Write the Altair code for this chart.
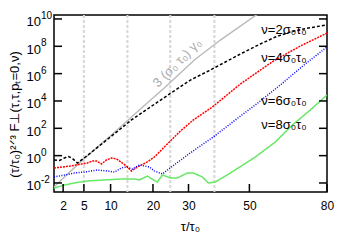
import altair as alt
import pandas as pd

# tau/tau0 and log10 of (tau/tau0)^(2/3) F for each nu
tau_2 = [1.0, 1.57, 2.16, 2.68, 3.23, 3.97, 5.26, 7.96, 11.02, 14.63, 19.33, 24.73, 30.56,
         36.15, 41.70, 47.52, 53.94, 59.50, 65.24, 72.35, 80.0]
logF_2 = [-0.32, -0.35, -0.17, -0.06, -0.21, -0.54, -0.10, 0.78, 1.66, 2.61, 3.56, 4.55, 5.53,
          6.19, 6.85, 7.51, 8.17, 8.68, 9.05, 9.34, 9.56]

tau_4 = [1.0, 1.92, 2.95, 4.13, 5.59, 6.47, 7.20, 8.16, 9.15, 10.17, 11.24, 12.56, 13.69, 14.63,
         16.06, 18.56, 20.38, 23.34, 27.60, 31.47, 37.43, 46.82, 58.75, 69.16, 80.0]
logF_4 = [-0.90, -0.83, -0.76, -0.65, -0.54, -0.39, -0.39, -0.61, -0.32, -0.17, -0.24, -0.54, -0.83,
          -1.12, -0.83, -0.46, -0.10, 0.71, 1.80, 2.61, 3.56, 5.24, 6.92, 8.02, 8.97]

tau_6 = [1.0, 2.16, 3.52, 5.09, 7.39, 9.35, 10.81, 12.33, 13.46, 14.86, 16.55, 19.07, 20.38, 22.52,
         26.15, 30.56, 37.75, 45.09, 52.13, 61.40, 71.15, 80.0]
logF_6 = [-1.56, -1.42, -1.27, -1.20, -1.05, -1.12, -1.20, -0.90, -0.83, -0.98, -0.68, -0.83, -1.12,
          -1.34, -0.61, 0.20, 1.37, 2.61, 3.71, 5.17, 6.71, 7.95]

tau_8 = [1.0, 2.16, 3.52, 5.59, 8.74, 12.33, 15.34, 16.55, 18.56, 20.11, 21.17, 22.52, 24.73, 26.73,
         29.66, 31.47, 34.25, 36.15, 38.40, 43.39, 52.13, 59.50, 66.02, 73.16, 80.0]
logF_8 = [-2.37, -2.15, -2.00, -1.85, -1.78, -1.71, -1.71, -1.78, -1.49, -1.78, -1.93, -1.42, -1.63,
          -1.63, -1.27, -1.27, -1.56, -2.00, -1.93, -1.27, -0.10, 1.00, 2.24, 3.34, 4.44]

tau_ref = [1.0, 4.44, 9.96, 16.80, 23.34, 31.78, 40.04, 46.82, 52.49, 57.63]
logF_ref = [-2.29, -0.46, 1.44, 3.41, 5.02, 7.00, 8.46, 9.48, 10.29, 10.95]

series_names = ["ν=2σ₀τ₀", "ν=4σ₀τ₀", "ν=6σ₀τ₀", "ν=8σ₀τ₀"]
series_colors = ["#000000", "#ff0000", "#0000ff", "#66e866"]
series_dash = [[3, 2], [2, 1], [1, 1.5], [1, 0]]

label_tau = [54.3, 54.3, 54.3, 54.3]
label_logF = [9.19, 7.14, 4.0, 2.24]

ref_label = "3 (σ₀ τ₀)  γ₀"
ref_label_tau = [26.7]
ref_label_logF = [6.78]

vlines = [5.0, 13.7, 24.7, 38.1]
x_ticks = [2, 5, 10, 20, 30, 50, 80]
y_exps = [-2, 0, 2, 4, 6, 8, 10]
y_exp_text = ["-2", "0", "2", "4", "6", "8", "10"]

W, H = 273, 177
FONT = "Liberation Sans"

rows = []
for name, ts, ls in zip(series_names, [tau_2, tau_4, tau_6, tau_8], [logF_2, logF_4, logF_6, logF_8]):
    for t, l in zip(ts, ls):
        rows.append({"nu": name, "tau": t, "F": 10 ** l})
curves = pd.DataFrame(rows)
ref = pd.DataFrame({"tau": tau_ref, "F": [10 ** l for l in logF_ref]})
labels = pd.DataFrame({"tau": label_tau, "F": [10 ** l for l in label_logF], "text": series_names})
reflab = pd.DataFrame({"tau": ref_label_tau, "F": [10 ** l for l in ref_label_logF], "text": [ref_label]})
vl = pd.DataFrame({"tau": vlines})
yt = pd.DataFrame({"F": [10.0 ** e for e in y_exps], "sup": y_exp_text})
xt = pd.DataFrame({"tau": x_ticks})

xs = alt.Scale(type="pow", exponent=2 / 3, domain=[1, 80], nice=False, zero=False)
ys = alt.Scale(type="log", domain=[10 ** -2.66, 10 ** 10.29], nice=False)

x_axis = alt.Axis(values=x_ticks, ticks=False, tickSize=0, domain=False, grid=False,
                  labelPadding=8, labelFontSize=12, labelFont=FONT, labelFlush=False,
                  labelOverlap=False, labelColor="black", format="d",
                  title="τ/τ₀", titleX=136, titleY=38, titleBaseline="alphabetic",
                  titleAlign="center", titleFontSize=13, titleFontWeight="normal",
                  titleFont=FONT, titleColor="black")
y_axis = alt.Axis(values=[10.0 ** e for e in y_exps], labelExpr="'10'", ticks=False, tickSize=0,
                  domain=False, grid=False, labelPadding=28, labelAlign="left", labelFontSize=13,
                  labelFont=FONT, labelOverlap=False, labelColor="black", labelOffset=3,
                  title="(τ/τ₀)²ᐟ³ F⊥(τ,τ,pₜ=0,ν)", titleX=-40, titleY=99, titleAngle=270,
                  titleAlign="center", titleBaseline="middle", titleFontSize=13,
                  titleFontWeight="normal", titleFont=FONT, titleColor="black")

X = lambda: alt.X("tau:Q", scale=xs, axis=x_axis)
Y = lambda: alt.Y("F:Q", scale=ys, axis=y_axis)

vrules = alt.Chart(vl).mark_rule(color="#d6d6d6", strokeDash=[3, 2], strokeWidth=2).encode(x=X())

refline = alt.Chart(ref).mark_line(color="#bbbbbb", strokeWidth=1.5, clip=True).encode(x=X(), y=Y())

lines = alt.Chart(curves).mark_line(strokeWidth=1.5, clip=True).encode(
    x=X(), y=Y(),
    color=alt.Color("nu:N", scale=alt.Scale(domain=series_names, range=series_colors), legend=None),
    strokeDash=alt.StrokeDash("nu:N", scale=alt.Scale(domain=series_names, range=series_dash), legend=None),
)

texts = alt.Chart(labels).mark_text(align="left", baseline="middle", fontSize=13, font=FONT,
                                    color="black").encode(x=X(), y=Y(), text="text:N")

reftext = alt.Chart(reflab).mark_text(align="center", baseline="middle", fontSize=13, font=FONT,
                                      color="#aaaaaa", angle=315).encode(x=X(), y=Y(), text="text:N")

sups = alt.Chart(yt).mark_text(align="left", baseline="middle", fontSize=10, font=FONT,
                               color="black", dy=-3).encode(
    y=Y(), x=alt.value(-13), text="sup:N")

lticks = alt.Chart(yt).mark_rule(color="black", strokeWidth=1.5).encode(
    y=Y(), x=alt.value(0), x2=alt.value(8))
rticks = alt.Chart(yt).mark_rule(color="black", strokeWidth=1.5).encode(
    y=Y(), x=alt.value(W - 8), x2=alt.value(W))
bticks = alt.Chart(xt).mark_rule(color="black", strokeWidth=1.5).encode(
    x=X(), y=alt.value(H), y2=alt.value(H - 8))

chart = alt.layer(vrules, refline, lines, texts, reftext, sups, lticks, rticks, bticks).properties(
    width=W, height=H,
    autosize=alt.AutoSizeParams(type="none"),
    padding={"left": 46, "top": 7, "right": 15, "bottom": 43},
).configure(font=FONT).configure_view(stroke="black", strokeWidth=1.5)

chart.save("out.html", embed_options={"renderer": "svg", "actions": False})
